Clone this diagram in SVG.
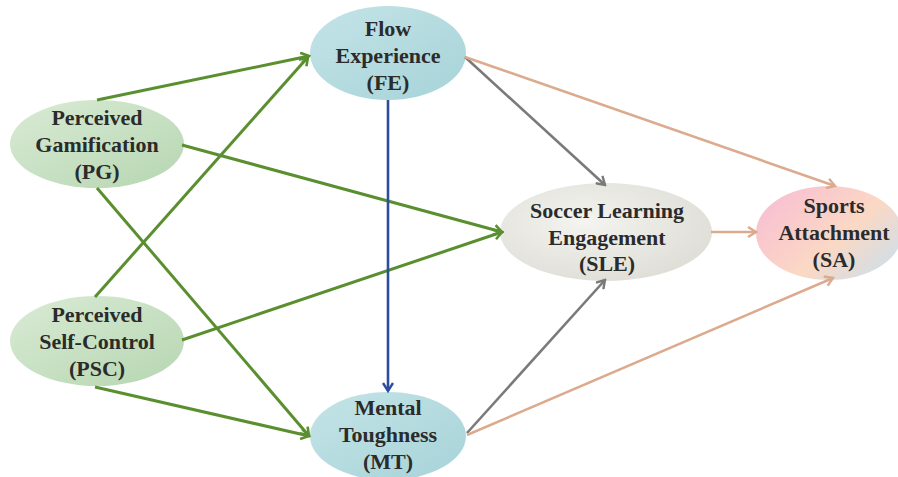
<svg xmlns="http://www.w3.org/2000/svg" width="898" height="477" viewBox="0 0 898 477">
<defs>
<linearGradient id="gGreen" x1="0" y1="0" x2="1" y2="1">
<stop offset="0" stop-color="#d9ebd5"/><stop offset="1" stop-color="#b6d6b1"/>
</linearGradient>
<linearGradient id="gCyan" x1="0" y1="0" x2="1" y2="1">
<stop offset="0" stop-color="#c4e4e7"/><stop offset="1" stop-color="#a6d3d8"/>
</linearGradient>
<radialGradient id="gGray" cx="0.4" cy="0.4" r="0.7">
<stop offset="0" stop-color="#f4f4f0"/><stop offset="1" stop-color="#dddcd5"/>
</radialGradient>
<linearGradient id="gSA" x1="0" y1="0.2" x2="1" y2="0.9">
<stop offset="0" stop-color="#f8bfd3"/><stop offset="0.55" stop-color="#fbd8c4"/><stop offset="1" stop-color="#c9e0ee"/>
</linearGradient>
<marker id="aGreen" viewBox="0 0 12 12" refX="10" refY="6" markerWidth="12" markerHeight="12" markerUnits="userSpaceOnUse" orient="auto">
<path d="M2,1 L10,6 L2,11" fill="none" stroke="#5a8f2f" stroke-width="2.6"/>
</marker>
<marker id="aGray" viewBox="0 0 12 12" refX="10" refY="6" markerWidth="12" markerHeight="12" markerUnits="userSpaceOnUse" orient="auto">
<path d="M2,1 L10,6 L2,11" fill="none" stroke="#7a7a7a" stroke-width="2.4"/>
</marker>
<marker id="aTan" viewBox="0 0 12 12" refX="10" refY="6" markerWidth="12" markerHeight="12" markerUnits="userSpaceOnUse" orient="auto">
<path d="M2,1 L10,6 L2,11" fill="none" stroke="#dcab8e" stroke-width="2.4"/>
</marker>
<marker id="aBlue" viewBox="0 0 12 12" refX="10" refY="6" markerWidth="12" markerHeight="12" markerUnits="userSpaceOnUse" orient="auto">
<path d="M2,1 L10,6 L2,11" fill="none" stroke="#2d4e9c" stroke-width="2.4"/>
</marker>
</defs>
<style>
.lbl{font-family:"Liberation Serif","Times New Roman",serif;font-weight:bold;font-size:22px;fill:#2b2b2b;text-anchor:middle}
.g{stroke:#5a8f2f;stroke-width:3;fill:none;marker-end:url(#aGreen)}
.gr{stroke:#7a7a7a;stroke-width:2.6;fill:none;marker-end:url(#aGray)}
.t{stroke:#dcab8e;stroke-width:2.6;fill:none;marker-end:url(#aTan)}
.b{stroke:#2d4e9c;stroke-width:2.6;fill:none;marker-end:url(#aBlue)}
</style>
<rect width="898" height="477" fill="#ffffff"/>
<g id="nodes">
<g id="PG"><ellipse cx="97" cy="144" rx="87" ry="44" fill="url(#gGreen)"/>
<text class="lbl" x="97" y="125">Perceived</text><text class="lbl" x="97" y="152">Gamification</text><text class="lbl" x="97" y="179">(PG)</text></g>
<g id="PSC"><ellipse cx="97" cy="341" rx="87" ry="45" fill="url(#gGreen)"/>
<text class="lbl" x="97" y="322">Perceived</text><text class="lbl" x="97" y="349">Self-Control</text><text class="lbl" x="97" y="376">(PSC)</text></g>
<g id="FE"><ellipse cx="388" cy="53" rx="78" ry="47" fill="url(#gCyan)"/>
<text class="lbl" x="388" y="36">Flow</text><text class="lbl" x="388" y="63">Experience</text><text class="lbl" x="388" y="90">(FE)</text></g>
<g id="MT"><ellipse cx="388" cy="436" rx="78" ry="44" fill="url(#gCyan)"/>
<text class="lbl" x="388" y="415">Mental</text><text class="lbl" x="388" y="442">Toughness</text><text class="lbl" x="388" y="469">(MT)</text></g>
<g id="SLE"><ellipse cx="606" cy="232" rx="106" ry="49" fill="url(#gGray)"/>
<text class="lbl" x="607" y="218">Soccer Learning</text><text class="lbl" x="607" y="245">Engagement</text><text class="lbl" x="607" y="271">(SLE)</text></g>
<g id="SA"><ellipse cx="829" cy="233" rx="73" ry="47" fill="url(#gSA)"/>
<text class="lbl" x="834" y="213">Sports</text><text class="lbl" x="834" y="240">Attachment</text><text class="lbl" x="834" y="267">(SA)</text></g>
</g>
<g id="connectors">
<line class="g" x1="97" y1="100" x2="309" y2="56"/>
<line class="g" x1="95" y1="297" x2="308" y2="57"/>
<line class="g" x1="182" y1="145" x2="502" y2="232"/>
<line class="g" x1="182" y1="340" x2="502" y2="232"/>
<line class="g" x1="97" y1="188" x2="309" y2="436"/>
<line class="g" x1="95" y1="387" x2="309" y2="436"/>
<line class="b" x1="388" y1="100" x2="388" y2="391"/>
<line class="gr" x1="465" y1="57" x2="605" y2="185"/>
<line class="gr" x1="467" y1="433" x2="605" y2="280"/>
<line class="t" x1="465" y1="57" x2="835" y2="186"/>
<line class="t" x1="467" y1="435" x2="833" y2="278"/>
<line class="t" x1="711" y1="232" x2="756" y2="232"/>
</g>
</svg>
